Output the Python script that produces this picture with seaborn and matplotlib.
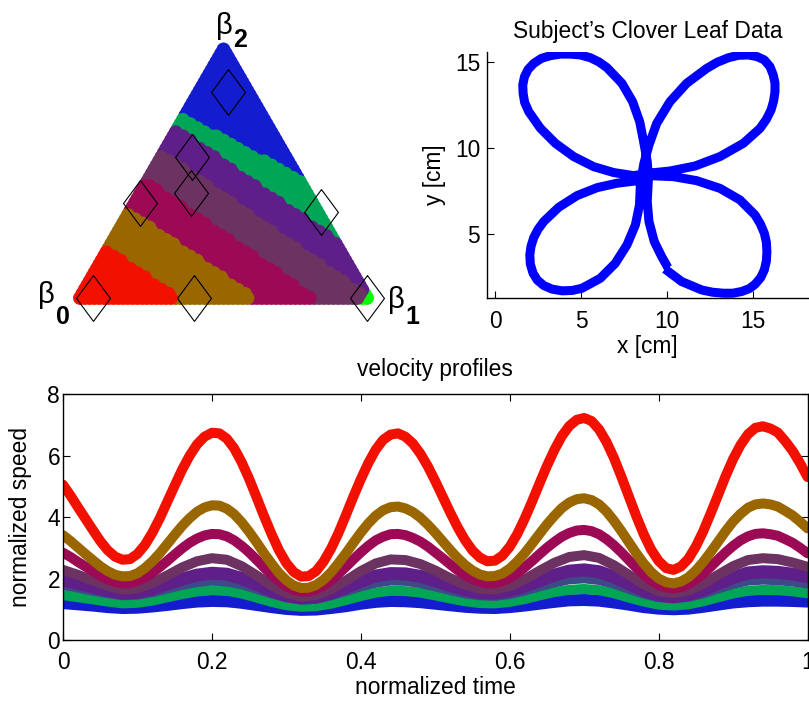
import numpy as np
import pandas as pd
import matplotlib
matplotlib.use("Agg")
import matplotlib.pyplot as plt
import seaborn as sns

sns.set_style("ticks", {"axes.edgecolor": "black", "xtick.color": "black",
                        "ytick.color": "black", "text.color": "black",
                        "axes.labelcolor": "black"})
plt.rcParams["font.family"] = ["Liberation Sans", "DejaVu Sans"]
FS = 16.4

# ---------------- data: ternary map ----------------
band_names = ["red", "brown", "crimson", "plum", "purple", "green", "blue"]
band_colors = ["#f21000", "#996600", "#9c0a55", "#6c3262", "#5e1f88", "#00a656", "#131ccf"]
corner_color = "#00ff00"
# boundaries between consecutive bands: Y + slope*X = level (ternary plane)
boundary_slopes = [0.70, 0.70, 0.70, 0.70, 0.70, 0.52]
boundary_levels = [0.232, 0.417, 0.565, 0.700, 0.818, 0.810]
corner_beta1 = 0.975
# diamond markers (barycentric weights of beta1, beta2)
diamond_beta1 = [0.046, 0.398, 1.0, 0.101, 0.666, 0.105, 0.178, 0.019]
diamond_beta2 = [0.0, 0.0, 0.0, 0.828, 0.347, 0.568, 0.421, 0.381]

# ---------------- data: clover leaf ----------------
clover_x = [9.88, 10.85, 12.02, 12.64, 13.28, 13.82, 14.34, 14.79, 15.12, 15.45, 15.66, 15.78, 15.81, 15.78, 15.66,
            15.43, 15.12, 14.24, 13.08, 11.72, 10.37, 9.01,
            8.16, 7.09, 5.93, 4.77, 3.70, 2.83, 2.50, 2.25, 2.09, 2.02, 2.05, 2.21, 2.46, 2.83, 3.31, 3.90, 4.48, 5.06,
            6.12, 6.99, 7.67, 8.16, 8.40, 8.45, 8.65,
            8.95, 9.40, 10.17, 11.14, 12.31, 12.91, 13.57, 14.15, 14.73, 15.25, 15.66, 15.99, 16.18, 16.28, 16.28, 16.20,
            16.05, 15.78, 15.41, 14.44, 13.08, 11.63, 10.17, 8.91,
            8.06, 6.90, 5.74, 4.57, 3.51, 2.64, 1.96, 1.72, 1.63, 1.61, 1.71, 1.92, 2.25, 2.69, 3.22, 3.80, 4.38, 4.96,
            5.54, 6.05, 6.51, 7.38, 8.00, 8.41, 8.64, 8.85, 8.92,
            8.85, 8.95, 9.26, 9.69, 10.05]
clover_y = [2.98, 2.25, 1.76, 1.63, 1.57, 1.57, 1.67, 1.84, 2.09, 2.48, 2.93, 3.45, 3.99, 4.53, 5.06,
            5.60, 6.12, 7.00, 7.67, 8.12, 8.35, 8.41,
            8.10, 7.97, 7.71, 7.25, 6.57, 5.74, 5.29, 4.81, 4.30, 3.80, 3.26, 2.73, 2.33, 2.02, 1.81, 1.71, 1.73, 1.86,
            2.44, 3.31, 4.38, 5.54, 6.71, 7.90, 9.10,
            10.19, 11.45, 12.71, 13.78, 14.65, 15.00, 15.27, 15.41, 15.43, 15.33, 15.14, 14.75, 14.26, 13.80, 13.29, 12.75,
            12.23, 11.69, 11.16, 10.29, 9.52, 8.97, 8.68, 8.55,
            8.41, 8.59, 8.93, 9.52, 10.29, 11.16, 12.13, 12.67, 13.20, 13.68, 14.17, 14.59, 14.94, 15.23, 15.39, 15.48, 15.48, 15.43,
            15.27, 15.02, 14.69, 13.78, 12.71, 11.55, 10.39, 9.22, 8.26,
            6.90, 5.74, 4.57, 3.70, 3.06]

# ---------------- data: velocity profiles ----------------
time_fine = np.linspace(0.0, 1.0, 101)
time_coarse = np.linspace(0.0, 1.0, 51)
speed_red = [5.05, 4.70, 4.32, 3.95, 3.58, 3.22, 2.92, 2.71, 2.61,
             2.63, 2.80, 3.09, 3.49, 3.96, 4.49, 5.02, 5.54, 5.99, 6.36, 6.61, 6.74,
             6.72, 6.55, 6.23, 5.78, 5.24, 4.64, 4.03, 3.45, 2.92, 2.50, 2.21, 2.06,
             2.08, 2.24, 2.55, 2.97, 3.48, 4.06, 4.66, 5.23, 5.75, 6.19, 6.51, 6.68,
             6.72, 6.61, 6.39, 6.06, 5.65, 5.17, 4.66, 4.15, 3.67, 3.25, 2.91, 2.68, 2.56,
             2.58, 2.74, 3.03, 3.44, 3.94, 4.50, 5.09, 5.66, 6.18, 6.63, 6.96, 7.16, 7.22,
             7.12, 6.85, 6.44, 5.92, 5.31, 4.67, 4.03, 3.44, 2.94, 2.57, 2.34,
             2.28, 2.39, 2.64, 3.04, 3.54, 4.12, 4.72, 5.33, 5.88, 6.34, 6.69, 6.90, 6.95,
             6.88, 6.75, 6.47, 6.15, 5.75, 5.30]
speed_brown = [3.41, 3.22, 3.01, 2.80, 2.60, 2.40, 2.24, 2.12, 2.07,
               2.08, 2.17, 2.34, 2.56, 2.82, 3.12, 3.42, 3.71, 3.96, 4.17, 4.31, 4.38,
               4.37, 4.27, 4.09, 3.83, 3.52, 3.18, 2.82, 2.49, 2.18, 1.94, 1.77, 1.69,
               1.70, 1.79, 1.96, 2.20, 2.50, 2.82, 3.16, 3.49, 3.79, 4.04, 4.22, 4.32,
               4.34, 4.28, 4.16, 3.98, 3.75, 3.49, 3.21, 2.93, 2.67, 2.44, 2.26, 2.13, 2.07,
               2.08, 2.16, 2.32, 2.55, 2.82, 3.13, 3.45, 3.76, 4.04, 4.29, 4.47, 4.58, 4.61,
               4.55, 4.41, 4.18, 3.88, 3.54, 3.18, 2.82, 2.49, 2.21, 2.00, 1.88,
               1.84, 1.90, 2.04, 2.26, 2.54, 2.86, 3.20, 3.54, 3.85, 4.10, 4.30, 4.41, 4.44,
               4.41, 4.34, 4.20, 4.05, 3.85, 3.63]
speed_crimson = [2.84, 2.70, 2.54, 2.39, 2.24, 2.09, 1.97, 1.89, 1.84,
                 1.85, 1.92, 2.03, 2.19, 2.37, 2.57, 2.78, 2.98, 3.16, 3.30, 3.40, 3.45,
                 3.44, 3.37, 3.24, 3.06, 2.85, 2.61, 2.36, 2.13, 1.92, 1.75, 1.63, 1.58,
                 1.58, 1.65, 1.77, 1.94, 2.15, 2.38, 2.62, 2.85, 3.06, 3.24, 3.36, 3.44,
                 3.45, 3.41, 3.32, 3.20, 3.04, 2.85, 2.66, 2.46, 2.27, 2.11, 1.98, 1.89, 1.84,
                 1.85, 1.91, 2.02, 2.17, 2.36, 2.57, 2.79, 3.00, 3.19, 3.36, 3.48, 3.56, 3.58,
                 3.54, 3.44, 3.28, 3.08, 2.85, 2.60, 2.35, 2.13, 1.93, 1.79, 1.71,
                 1.68, 1.72, 1.82, 1.97, 2.16, 2.38, 2.62, 2.85, 3.06, 3.24, 3.37, 3.45, 3.47,
                 3.44, 3.39, 3.28, 3.16, 3.00, 2.82]
speed_plum = [2.28, 2.12, 1.93, 1.76, 1.64, 1.68, 1.85, 2.10, 2.36, 2.56, 2.66, 2.61, 2.40, 2.10, 1.78, 1.53, 1.41,
              1.46, 1.65, 1.93, 2.24, 2.49, 2.62, 2.60, 2.47, 2.26, 2.01, 1.80, 1.66, 1.64, 1.75, 1.97, 2.25, 2.51,
              2.70, 2.76, 2.67, 2.43, 2.12, 1.81, 1.59, 1.52, 1.61, 1.83, 2.12, 2.40, 2.60, 2.66, 2.63, 2.52, 2.38]
speed_purple = [1.95, 1.84, 1.72, 1.61, 1.52, 1.55, 1.66, 1.82, 1.98, 2.11, 2.17, 2.14, 2.00, 1.81, 1.60, 1.44, 1.36,
                1.39, 1.52, 1.71, 1.91, 2.08, 2.16, 2.15, 2.07, 1.93, 1.77, 1.63, 1.54, 1.52, 1.60, 1.75, 1.93, 2.11,
                2.24, 2.28, 2.22, 2.05, 1.83, 1.61, 1.46, 1.41, 1.47, 1.63, 1.83, 2.03, 2.18, 2.22, 2.20, 2.14, 2.06]
speed_slate = [1.75, 1.67, 1.57, 1.49, 1.42, 1.44, 1.52, 1.64, 1.76, 1.85, 1.90, 1.87, 1.78, 1.63, 1.48, 1.36, 1.30,
               1.32, 1.42, 1.56, 1.71, 1.83, 1.90, 1.89, 1.82, 1.71, 1.59, 1.48, 1.42, 1.40, 1.46, 1.57, 1.71, 1.84,
               1.94, 1.97, 1.92, 1.80, 1.63, 1.47, 1.36, 1.32, 1.37, 1.48, 1.64, 1.79, 1.90, 1.93, 1.91, 1.87, 1.80]
speed_green = [1.46, 1.39, 1.32, 1.25, 1.19, 1.21, 1.28, 1.39, 1.49, 1.58, 1.62, 1.60, 1.51, 1.38, 1.24, 1.13, 1.08,
               1.10, 1.18, 1.30, 1.43, 1.54, 1.60, 1.59, 1.54, 1.45, 1.35, 1.26, 1.20, 1.19, 1.24, 1.33, 1.45, 1.56,
               1.63, 1.66, 1.62, 1.52, 1.38, 1.25, 1.15, 1.12, 1.16, 1.26, 1.39, 1.51, 1.60, 1.63, 1.62, 1.58, 1.52]
speed_blue = [1.20, 1.16, 1.12, 1.07, 1.04, 1.05, 1.09, 1.14, 1.20, 1.25, 1.27, 1.26, 1.21, 1.14, 1.07, 1.01, 0.98,
              0.99, 1.04, 1.10, 1.18, 1.24, 1.27, 1.26, 1.23, 1.18, 1.13, 1.08, 1.05, 1.04, 1.07, 1.12, 1.18, 1.24,
              1.29, 1.30, 1.28, 1.22, 1.15, 1.07, 1.02, 1.00, 1.02, 1.08, 1.15, 1.22, 1.26, 1.28, 1.28, 1.27, 1.25]
profile_order = ["blue", "green", "slate", "purple", "plum", "crimson", "brown", "red"]
profile_values = {"red": speed_red, "brown": speed_brown, "crimson": speed_crimson, "plum": speed_plum,
                  "purple": speed_purple, "slate": speed_slate, "green": speed_green, "blue": speed_blue}
profile_colors = {"red": "#f21000", "brown": "#996600", "crimson": "#9c0a55", "plum": "#6c3262",
                  "purple": "#5e1f88", "slate": "#3e4a88", "green": "#00a656", "blue": "#131ccf"}
profile_width_px = {"red": 10, "brown": 10, "crimson": 10, "plum": 10, "purple": 13,
                    "slate": 8, "green": 10, "blue": 12}

# ---------------- figure ----------------
W, H = 809, 702
fig = plt.figure(figsize=(W / 100, H / 100), dpi=100)


def fig_rect(left, top, right, bottom):
    return [left / W, 1 - bottom / H, (right - left) / W, (bottom - top) / H]


# ---- ternary panel ----
ax_t = fig.add_axes(fig_rect(8.25, 11, 424.4, 341))
ax_t.set_xlim(-0.25, 1.2)
ax_t.set_ylim(-0.15, 1.0)
ax_t.axis("off")

N = 60
rows = []
for i in range(N + 1):
    for j in range(N + 1 - i):
        b1, b2 = i / N, j / N
        X = b1 + 0.5 * b2
        Y = np.sqrt(3) / 2 * b2
        rank = int(sum(Y + m * X > c for m, c in zip(boundary_slopes, boundary_levels)))
        if b1 >= corner_beta1:
            rank, name = 99, "corner"
        else:
            name = band_names[rank]
        rows.append((X, Y, rank, name))
tri = pd.DataFrame(rows, columns=["X", "Y", "rank", "band"]).sort_values("rank", ascending=False, kind="stable")
palette = dict(zip(band_names, band_colors))
palette["corner"] = corner_color
sns.scatterplot(data=tri, x="X", y="Y", hue="band", palette=palette, s=100,
                linewidth=0, legend=False, ax=ax_t)
dX = [b1 + 0.5 * b2 for b1, b2 in zip(diamond_beta1, diamond_beta2)]
dY = [np.sqrt(3) / 2 * b2 for b2 in diamond_beta2]
diamond = [(0, 1), (0.74, 0), (0, -1), (-0.74, 0), (0, 1)]
ax_t.plot(dX, dY, linestyle="none", marker=diamond, markersize=33,
          markerfacecolor="none", markeredgecolor="black", markeredgewidth=0.8)


def beta_label(xb, yb, xs, ys, sub):
    ax_t.text(xb, yb, "\u03b2", fontsize=21, ha="center", va="center")
    ax_t.text(xs, ys, sub, fontsize=18, fontweight="bold", ha="center", va="center")


beta_label(-0.117, 0.0105, -0.061, -0.066, "0")
beta_label(1.103, -0.007, 1.159, -0.066, "1")
beta_label(0.503, 0.949, 0.559, 0.899, "2")

# ---- clover panel ----
ax_c = fig.add_axes(fig_rect(487, 51.7, 808, 297.7))
sns.lineplot(x=clover_x, y=clover_y, sort=False, estimator=None, color="#0000ff",
             linewidth=6.5, ax=ax_c, solid_joinstyle="round", solid_capstyle="butt")
ax_c.set_xlim(-0.47, 18.2)
ax_c.set_ylim(1.31, 15.62)
ax_c.set_xticks([0, 5, 10, 15])
ax_c.set_yticks([5, 10, 15])
sns.despine(ax=ax_c)
ax_c.tick_params(direction="in", length=5, width=0.8, labelsize=FS)
ax_c.tick_params(axis="x", pad=9)
ax_c.tick_params(axis="y", pad=5)
for s in ax_c.spines.values():
    s.set_linewidth(1.0)
ax_c.set_title("Subject\u2019s Clover Leaf Data", fontsize=FS, y=1.081, va="center", pad=0)
ax_c.set_xlabel("x [cm]", fontsize=FS)
ax_c.set_ylabel("y [cm]", fontsize=FS)
ax_c.xaxis.set_label_coords(0.5, -0.2)
ax_c.xaxis.label.set_va("center")
ax_c.yaxis.set_label_coords(-0.162, 0.5)
ax_c.yaxis.label.set_va("center")

# ---- velocity panel ----
ax_v = fig.add_axes(fig_rect(63, 394, 807.5, 640))
for name in profile_order:
    vals = profile_values[name]
    t = time_fine if len(vals) == len(time_fine) else time_coarse
    sns.lineplot(x=t, y=vals, color=profile_colors[name],
                 linewidth=profile_width_px[name] * 0.72, ax=ax_v,
                 solid_capstyle="round", solid_joinstyle="round")
ax_v.set_xlim(0, 1)
ax_v.set_ylim(0, 8)
ax_v.set_xticks([0, 0.2, 0.4, 0.6, 0.8, 1.0])
ax_v.set_xticklabels(["0", "0.2", "0.4", "0.6", "0.8", "1"])
ax_v.set_yticks([0, 2, 4, 6, 8])
ax_v.tick_params(direction="in", length=5, width=0.8, labelsize=FS, top=True, right=True)
ax_v.tick_params(axis="x", pad=8)
ax_v.tick_params(axis="y", pad=2)
for s in ax_v.spines.values():
    s.set_linewidth(1.0)
ax_v.set_title("velocity profiles", fontsize=FS, y=1.1, va="center", pad=0)
ax_v.set_xlabel("normalized time", fontsize=FS)
ax_v.set_ylabel("normalized speed", fontsize=FS)
ax_v.xaxis.set_label_coords(0.5, -0.195)
ax_v.xaxis.label.set_va("center")
ax_v.yaxis.set_label_coords(-0.057, 0.5)
ax_v.yaxis.label.set_va("center")

fig.savefig("out.png", dpi=100)
